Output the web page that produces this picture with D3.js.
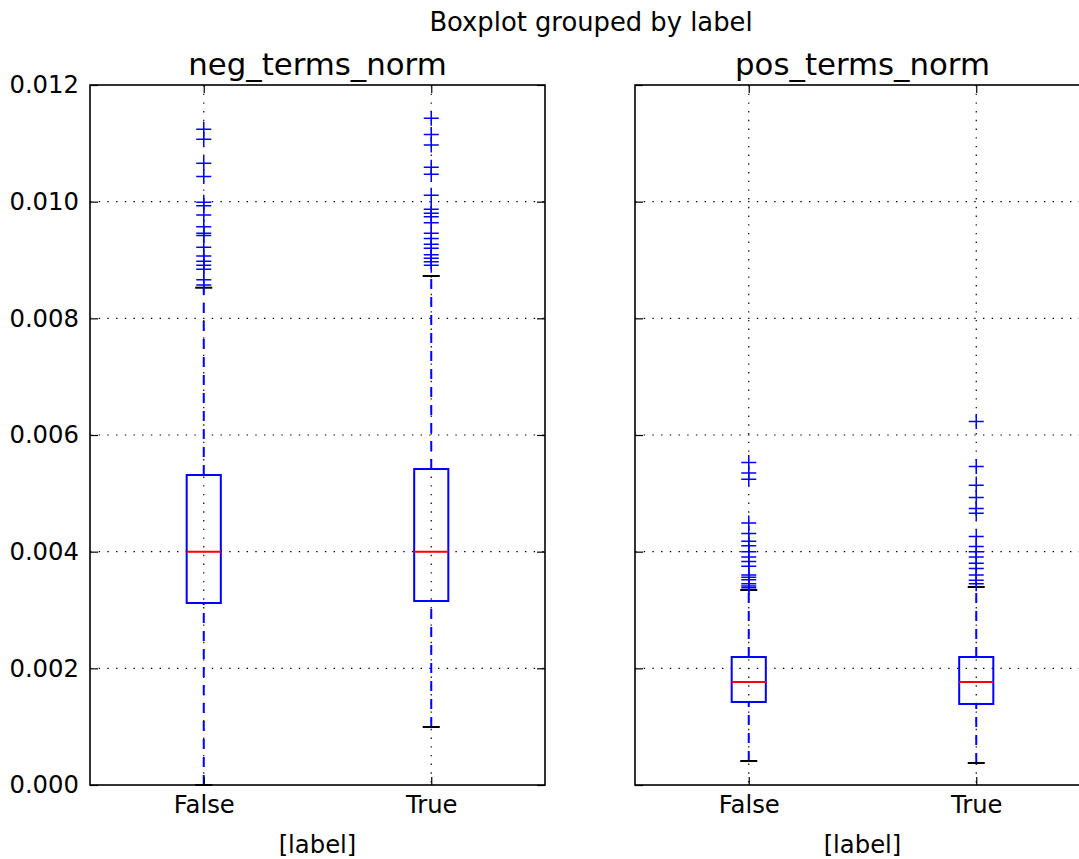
<!DOCTYPE html>
<html>
<head>
<meta charset="utf-8">
<script src="https://cdn.jsdelivr.net/npm/d3@7"></script>
<style>
  body { margin: 0; background: #fff; }
  svg { display: block; font-family: "DejaVu Sans", sans-serif; }
</style>
</head>
<body>
<div id="chart"></div>
<script>
// data
const panels = ["neg_terms_norm", "pos_terms_norm"];
const categories = ["False", "True"];
const yTicks = [0, 0.002, 0.004, 0.006, 0.008, 0.010, 0.012];

// per panel, per category
const whiskerLow = [[0.0, 0.000994], [0.000411, 0.000377]];
const q1 = [[0.00312, 0.003154], [0.001423, 0.001389]];
const median = [[0.004, 0.004], [0.001766, 0.001766]];
const q3 = [[0.005314, 0.005417], [0.002194, 0.002194]];
const whiskerHigh = [[0.008525, 0.008726], [0.003343, 0.003394]];

const fliers = [
  [
    [0.01124, 0.01107, 0.01066, 0.01043, 0.00999, 0.00993, 0.00977, 0.00957,
     0.00946, 0.00942, 0.00922, 0.00907, 0.00898, 0.00891, 0.00884, 0.00866, 0.00857],
    [0.01143, 0.01115, 0.01097, 0.01059, 0.01047, 0.01011, 0.00987, 0.0098,
     0.00974, 0.00964, 0.00946, 0.00937, 0.00927, 0.0092, 0.00909, 0.00903, 0.00897, 0.00891]
  ],
  [
    [0.00553, 0.00535, 0.00524, 0.00449, 0.00431, 0.00418, 0.0041, 0.004,
     0.00391, 0.00383, 0.00375, 0.0036, 0.00356, 0.00352, 0.00345, 0.00341, 0.00338],
    [0.00623, 0.00546, 0.00514, 0.00493, 0.00474, 0.00466, 0.00426, 0.00409,
     0.004, 0.00391, 0.0038, 0.00371, 0.0036, 0.00351, 0.00345]
  ]
];

const width = 1079, height = 859;
const axesLeft = [90, 635];
const axesWidth = 455;
const plotTop = 85, plotBottom = 785;

const svg = d3.select("#chart").append("svg")
  .attr("width", width).attr("height", height);

const yScale = d3.scaleLinear().domain([0, 0.012]).range([plotBottom, plotTop]);

svg.append("text")
  .attr("x", 591).attr("y", 31)
  .attr("text-anchor", "middle")
  .attr("font-size", 25.8)
  .text("Boxplot grouped by label");

panels.forEach((name, p) => {
  const x0 = axesLeft[p];
  const xScale = d3.scaleLinear().domain([0.5, 2.5]).range([x0, x0 + axesWidth]);
  const g = svg.append("g").attr("id", "panel-" + p);
  const boxW = 0.15 * (xScale(2) - xScale(1));

  // grid
  g.append("g").selectAll("line").data(yTicks.slice(1, -1)).join("line")
    .attr("x1", x0).attr("x2", x0 + axesWidth)
    .attr("y1", (d) => yScale(d)).attr("y2", (d) => yScale(d))
    .attr("stroke", "#000").attr("stroke-width", 1.2)
    .attr("stroke-dasharray", "1.4,7.3");
  g.append("g").selectAll("line").data([1, 2]).join("line")
    .attr("x1", (d) => xScale(d)).attr("x2", (d) => xScale(d))
    .attr("y1", plotTop).attr("y2", plotBottom)
    .attr("stroke", "#000").attr("stroke-width", 1.2)
    .attr("stroke-dasharray", "1.4,7.3");

  categories.forEach((c, i) => {
    const cx = xScale(i + 1);
    const bg = g.append("g");
    // whiskers
    bg.selectAll("line.whisker")
      .data([[q3[p][i], whiskerHigh[p][i]], [whiskerLow[p][i], q1[p][i]]])
      .join("line").attr("class", "whisker")
      .attr("x1", cx).attr("x2", cx)
      .attr("y1", (d) => yScale(d[0])).attr("y2", (d) => yScale(d[1]))
      .attr("stroke", "#0000ff").attr("stroke-width", 2)
      .attr("stroke-dasharray", "10,8");
    // caps
    bg.selectAll("line.cap").data([whiskerLow[p][i], whiskerHigh[p][i]])
      .join("line").attr("class", "cap")
      .attr("x1", cx - boxW / 4).attr("x2", cx + boxW / 4)
      .attr("y1", (d) => yScale(d)).attr("y2", (d) => yScale(d))
      .attr("stroke", "#000").attr("stroke-width", 2);
    // box
    bg.append("rect")
      .attr("x", cx - boxW / 2).attr("width", boxW)
      .attr("y", yScale(q3[p][i]))
      .attr("height", yScale(q1[p][i]) - yScale(q3[p][i]))
      .attr("fill", "none").attr("stroke", "#0000ff").attr("stroke-width", 2);
    // median
    bg.append("line")
      .attr("x1", cx - boxW / 2).attr("x2", cx + boxW / 2)
      .attr("y1", yScale(median[p][i])).attr("y2", yScale(median[p][i]))
      .attr("stroke", "#ff0000").attr("stroke-width", 2);
    // fliers
    bg.selectAll("path.flier").data(fliers[p][i]).join("path")
      .attr("class", "flier")
      .attr("d", (d) => {
        const y = yScale(d);
        return `M${cx - 7.5},${y}H${cx + 7.5}M${cx},${y - 7.5}V${y + 7.5}`;
      })
      .attr("stroke", "#0000ff").attr("stroke-width", 1.5).attr("fill", "none");
  });

  // axes with inward ticks
  const yAxisL = d3.axisLeft(yScale).tickValues(yTicks).tickFormat(d3.format(".3f"))
    .tickSizeInner(-8).tickSizeOuter(0).tickPadding(11);
  const yAxisR = d3.axisRight(yScale).tickValues(yTicks).tickFormat("")
    .tickSizeInner(-8).tickSizeOuter(0);
  const xAxisB = d3.axisBottom(xScale).tickValues([1, 2])
    .tickFormat((d) => categories[d - 1]).tickSizeInner(-8).tickSizeOuter(0).tickPadding(11);
  const xAxisT = d3.axisTop(xScale).tickValues([1, 2]).tickFormat("")
    .tickSizeInner(-8).tickSizeOuter(0);

  const yl = g.append("g").attr("transform", `translate(${x0},0)`).call(yAxisL);
  if (p > 0) yl.selectAll(".tick text").remove();
  g.append("g").attr("transform", `translate(${x0 + axesWidth},0)`).call(yAxisR);
  g.append("g").attr("transform", `translate(0,${plotBottom})`).call(xAxisB);
  g.append("g").attr("transform", `translate(0,${plotTop})`).call(xAxisT);

  g.selectAll(".domain").remove();
  g.selectAll(".tick line").attr("stroke", "#000").attr("stroke-width", 1.2);
  g.selectAll(".tick text").attr("font-size", 24.3).attr("fill", "#000")
    .attr("font-family", "DejaVu Sans, sans-serif");

  // frame
  g.append("rect")
    .attr("x", x0).attr("y", plotTop).attr("width", axesWidth).attr("height", plotBottom - plotTop)
    .attr("fill", "none").attr("stroke", "#000").attr("stroke-width", 1.6);

  g.append("text")
    .attr("x", x0 + axesWidth / 2).attr("y", 75)
    .attr("text-anchor", "middle").attr("font-size", 30.8)
    .text(name);

  g.append("text")
    .attr("x", x0 + axesWidth / 2).attr("y", 853)
    .attr("text-anchor", "middle").attr("font-size", 24.3)
    .text("[label]");
});
</script>
</body>
</html>
